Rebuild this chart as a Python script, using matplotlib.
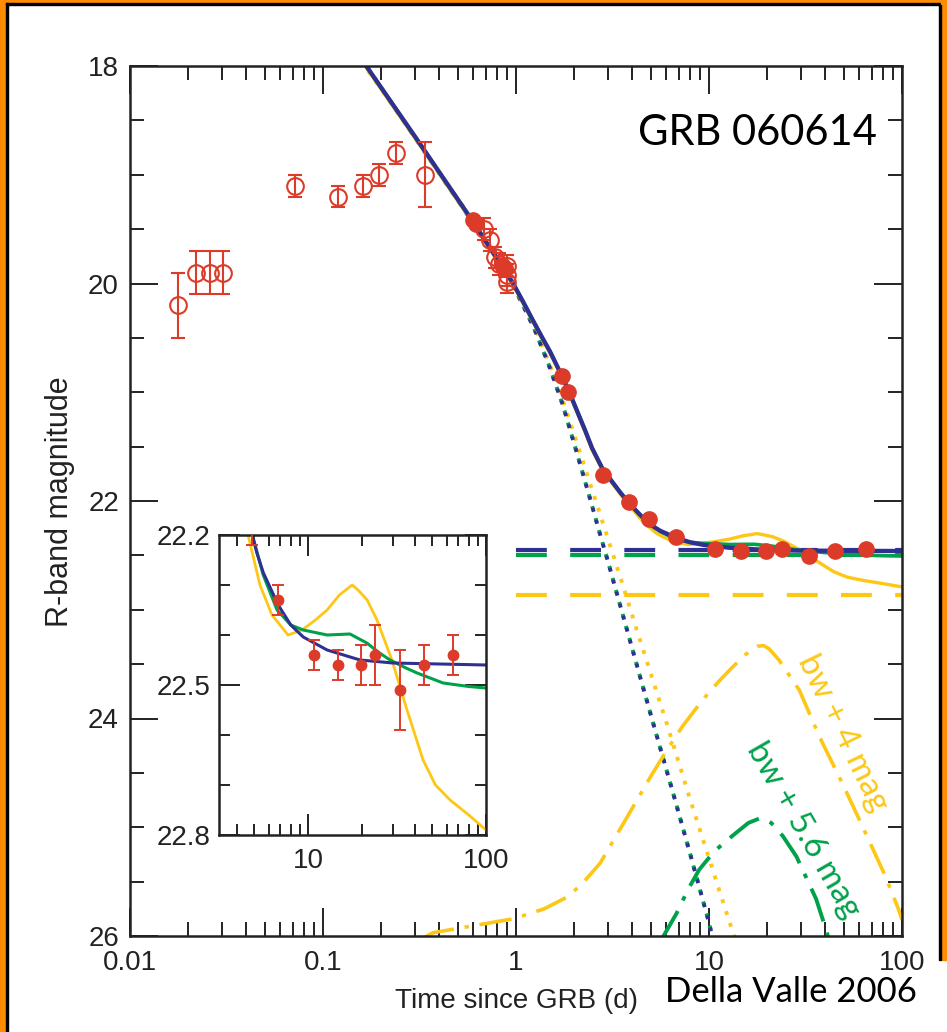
import matplotlib
matplotlib.use("Agg")
import matplotlib.pyplot as plt
from matplotlib.patches import Rectangle
from matplotlib.ticker import FixedLocator, NullFormatter

# ---- photometry ----
# early open circles
t_open = [0.0177, 0.0220, 0.0260, 0.0303, 0.0716, 0.1196, 0.161, 0.195, 0.239, 0.337,
          0.68, 0.73, 0.78, 0.82, 0.90, 0.90, 0.90]
m_open = [20.2, 19.9, 19.9, 19.9, 19.1, 19.2, 19.1, 19.0, 18.8, 19.0,
          19.50, 19.60, 19.76, 19.82, 19.84, 19.92, 19.99]
e_open = [0.3, 0.2, 0.2, 0.2, 0.1, 0.1, 0.1, 0.1, 0.1, 0.3,
          0.1, 0.1, 0.1, 0.1, 0.1, 0.1, 0.1]

# filled circles
t_fill = [0.60, 0.62, 0.85, 0.88, 1.73, 1.85, 2.83, 3.86, 4.87, 6.78, 10.8, 14.7,
          19.8, 23.8, 32.9, 44.9, 65.3]
m_fill = [19.42, 19.45, 19.83, 19.86, 20.85, 21.0, 21.76, 22.01, 22.17, 22.33, 22.44,
          22.46, 22.46, 22.44, 22.51, 22.46, 22.44]
e_fill = [0.03, 0.03, 0.03, 0.03, 0.04, 0.04, 0.04, 0.04, 0.05, 0.03, 0.03, 0.03,
          0.04, 0.06, 0.08, 0.04, 0.04]

# ---- model curves ----
t_early = [0.15, 0.169, 0.3, 0.557, 0.65, 0.75, 0.85, 0.966, 1.09, 1.22, 1.36, 1.5,
           1.73, 1.9, 2.07, 2.28, 2.48, 2.8, 3.14, 3.5, 3.86]
m_early = [17.82, 18.01, 18.65, 19.35, 19.53, 19.70, 19.845, 20.0, 20.17, 20.335, 20.49,
           20.625, 20.85, 21.01, 21.17, 21.35, 21.515, 21.70, 21.82, 21.93, 22.02]

t_blue = t_early + [4.3, 4.7, 5.15, 5.6, 6.8, 8.0, 9.4, 12.8, 19.6, 30, 100]
m_blue = m_early + [22.11, 22.18, 22.235, 22.275, 22.34, 22.38, 22.404, 22.43, 22.45,
                    22.456, 22.46]

t_yel = t_early[:-1] + [3.86, 4.6, 5.37, 6.27, 7.72, 9.25, 11, 12.8, 15, 17.7, 19.1,
                        21.5, 24.4, 29.6, 36, 44.3, 52, 62.8, 80, 100]
m_yel = [m + 0.015 for m in m_early[:-1]] + [22.04, 22.2, 22.30, 22.36, 22.40, 22.39,
                                             22.37, 22.35, 22.32, 22.30, 22.31, 22.33,
                                             22.37, 22.45, 22.55, 22.65, 22.70, 22.73,
                                             22.76, 22.79]

t_grn = t_early + [4.3, 4.7, 5.6, 6.7, 8.0, 9.4, 12.8, 17.2, 21.4, 25, 28.9, 35, 41,
                   57.4, 80, 100]
m_grn = m_early + [22.11, 22.18, 22.28, 22.35, 22.38, 22.39, 22.40, 22.398, 22.416,
                   22.435, 22.45, 22.465, 22.476, 22.496, 22.503, 22.506]

# afterglow only (dotted)
t_ag = [0.15, 0.169, 0.557, 0.8, 1.0, 1.24, 1.48, 1.75, 2.1, 2.42, 2.74, 3.0, 3.33,
        3.78, 4.4, 5.15, 6.5, 8.0, 9.8, 10.4]
m_ag = [17.82, 18.01, 19.36, 19.77, 20.07, 20.41, 20.75, 21.12, 21.6, 21.98, 22.32,
        22.56, 22.85, 23.2, 23.62, 24.05, 24.68, 25.25, 25.82, 26.0]
t_ag_y = [0.15, 0.169, 0.557, 0.8, 1.0, 1.24, 1.61, 1.88, 2.34, 2.9, 3.5, 4.25, 6.05,
          8.0, 11.4, 13.2, 14.2]
m_ag_y = [17.84, 18.03, 19.34, 19.75, 20.05, 20.38, 20.89, 21.24, 21.76, 22.27, 22.72,
          23.2, 24.05, 24.75, 25.6, 25.95, 26.1]

# host levels (dashed)
host_blue = 22.45
host_grn = 22.50
host_yel = 22.86

# supernova templates (dash-dot)
t_sn4 = [0.33, 0.372, 0.98, 1.4, 1.85, 2.2, 2.73, 3.3, 4.05, 5.0, 6.05, 7.3, 8.9, 10,
         11.5, 13.2, 15.5, 17.9, 19.2, 20.5, 23, 29.4, 37.4, 49.2, 65, 82, 95.7, 100]
m_sn4 = [26.02, 25.97, 25.84, 25.75, 25.64, 25.52, 25.33, 25.08, 24.81, 24.53, 24.29,
         24.07, 23.87, 23.76, 23.64, 23.53, 23.41, 23.335, 23.33, 23.36, 23.46, 23.74,
         24.17, 24.6, 25.06, 25.45, 25.75, 25.85]
t_sn56 = [5.6, 6.8, 7.8, 8.9, 10, 11, 13.2, 16, 18.2, 19.5, 21, 24.1, 28.4, 35.9, 40.4, 42]
m_sn56 = [26.05, 25.79, 25.57, 25.39, 25.28, 25.2, 25.08, 24.96, 24.92, 24.925, 24.96,
          25.08, 25.27, 25.66, 25.94, 26.05]

BLUE = "#2e3192"
GREEN = "#00a14b"
YELLOW = "#fdc716"
RED = "#dc3b2a"
INK = "#222222"

TICKFONT = ["Liberation Sans", "DejaVu Sans"]
NOTEFONT = ["Lato", "DejaVu Sans"]
W, H = 947, 1032


def fx(px):
    return px / W


def fy(py):
    return 1 - py / H


fig = plt.figure(figsize=(W / 100, H / 100), dpi=100)

# orange frame
ORANGE = "#ff8c00"
fig.patches.append(Rectangle((0, 0), fx(6), 1, transform=fig.transFigure, color=ORANGE, zorder=0))
fig.patches.append(Rectangle((0, fy(3)), 1, 3 / H, transform=fig.transFigure, color=ORANGE, zorder=0))
fig.patches.append(Rectangle((fx(6), 0), fx(2), fy(3), transform=fig.transFigure, color="black", zorder=0))
fig.patches.append(Rectangle((fx(6), fy(5)), fx(935), 2 / H, transform=fig.transFigure, color="black", zorder=0))
fig.patches.append(Rectangle((fx(941), fy(960)), fx(6), fy(0) - fy(960), transform=fig.transFigure, color=ORANGE, zorder=0))
fig.patches.append(Rectangle((fx(939), fy(960)), fx(2), fy(5) - fy(960), transform=fig.transFigure, color="black", zorder=0))

ax = fig.add_axes([fx(130), fy(936), fx(902) - fx(130), fy(66) - fy(936)])
ax.set_xscale("log")
ax.set_xlim(0.01, 100)
ax.set_ylim(26, 18)

dash = (0, (7.4, 5.6))
ax.plot([1, 100], [host_yel, host_yel], color=YELLOW, lw=3.0, ls=dash)
ax.plot([1, 100], [host_grn, host_grn], color=GREEN, lw=3.0, ls=dash)
ax.plot([1, 100], [host_blue, host_blue], color=BLUE, lw=3.0, ls=dash)

dot = (0, (1.0, 2.2))
ax.plot(t_ag_y, m_ag_y, color=YELLOW, lw=2.8, ls=dot)
ax.plot(t_ag, m_ag, color=GREEN, lw=2.8, ls=(0.5, (1.0, 2.2)))
ax.plot(t_ag, m_ag, color=BLUE, lw=2.8, ls=dot)

ddot = (0, (9, 3, 1.2, 3))
ax.plot(t_sn4, m_sn4, color=YELLOW, lw=2.6, ls=ddot)
ax.plot(t_sn56, m_sn56, color=GREEN, lw=2.8, ls=ddot)

ax.plot(t_yel, m_yel, color=YELLOW, lw=2.4)
ax.plot(t_grn, m_grn, color=GREEN, lw=2.6)
ax.plot(t_blue, m_blue, color=BLUE, lw=3.1)

ax.errorbar(t_open, m_open, yerr=e_open, fmt="o", ms=12, mfc="none", mec=RED, mew=1.5,
            ecolor=RED, elinewidth=1.5, capsize=4.7, capthick=1.5, zorder=5)
ax.plot(t_fill, m_fill, "o", ms=11, color=RED, zorder=6)

ax.set_xticks([0.01, 0.1, 1, 10, 100])
ax.set_xticklabels(["0.01", "0.1", "1", "10", "100"])
ax.xaxis.set_minor_locator(FixedLocator([d * s for d in [0.01, 0.1, 1, 10] for s in range(2, 10)]))
ax.xaxis.set_minor_formatter(NullFormatter())
ax.set_yticks([18, 20, 22, 24, 26])
ax.yaxis.set_minor_locator(FixedLocator([18 + 0.5 * i for i in range(17)]))
ax.tick_params(which="both", direction="in", top=True, right=True, width=1.4, colors=INK)
ax.tick_params(which="major", length=20)
ax.tick_params(which="minor", length=10)
ax.tick_params(axis="x", which="major", pad=10)
ax.tick_params(axis="y", which="major", pad=8)
for lab in ax.get_xticklabels() + ax.get_yticklabels():
    lab.set_family(TICKFONT)
    lab.set_fontsize(20)
    lab.set_color(INK)
for sp in ax.spines.values():
    sp.set_linewidth(1.8)
    sp.set_color(INK)

# inset
ax2 = fig.add_axes([fx(219), fy(835), fx(486) - fx(219), fy(535) - fy(835)])
ax2.set_xscale("log")
ax2.set_xlim(3.16, 100)
ax2.set_ylim(22.8, 22.2)
ax2.plot(t_yel, m_yel, color=YELLOW, lw=2.0)
ax2.plot(t_grn, m_grn, color=GREEN, lw=2.2)
ax2.plot(t_blue, m_blue, color=BLUE, lw=2.2)
ax2.errorbar(t_fill, m_fill, yerr=e_fill, fmt="o", ms=7.5, color=RED, ecolor=RED,
             elinewidth=1.4, capsize=4, capthick=1.4, zorder=5)
ax2.set_xticks([10, 100])
ax2.set_xticklabels(["10", "100"])
ax2.xaxis.set_minor_locator(FixedLocator([d * s for d in [1, 10] for s in range(2, 10)]))
ax2.xaxis.set_minor_formatter(NullFormatter())
ax2.set_yticks([22.2, 22.5, 22.8])
ax2.set_yticklabels(["22.2", "22.5", "22.8"])
ax2.yaxis.set_minor_locator(FixedLocator([22.3, 22.4, 22.6, 22.7]))
ax2.tick_params(which="both", direction="in", top=True, right=True, width=1.4, colors=INK)
ax2.tick_params(which="major", length=15)
ax2.tick_params(which="minor", length=8)
ax2.tick_params(axis="x", which="major", pad=9)
ax2.tick_params(axis="y", which="major", pad=6)
for lab in ax2.get_xticklabels() + ax2.get_yticklabels():
    lab.set_family(TICKFONT)
    lab.set_fontsize(20)
    lab.set_color(INK)
for sp in ax2.spines.values():
    sp.set_linewidth(1.8)
    sp.set_color(INK)

# texts
fig.text(fx(60), fy(502), "R-band magnitude", rotation=90, ha="center", va="center",
         family=TICKFONT, fontsize=22, color=INK)
fig.text(fx(516), fy(1001), "Time since GRB (d)", ha="center", va="center",
         family=TICKFONT, fontsize=20, color=INK)
fig.text(fx(757), fy(133), "GRB 060614", ha="center", va="center",
         family=NOTEFONT, fontsize=30)
fig.text(fx(791), fy(992), "Della Valle 2006", ha="center", va="center",
         family=NOTEFONT, fontsize=25)
fig.text(fx(843), fy(733), "bw + 4 mag", ha="center", va="center", rotation=-64,
         rotation_mode="anchor", family=NOTEFONT, fontsize=24, color=YELLOW)
fig.text(fx(803), fy(830), "bw + 5.6 mag", ha="center", va="center", rotation=-60,
         rotation_mode="anchor", family=NOTEFONT, fontsize=24, color=GREEN)

fig.savefig("out.png", dpi=100)
